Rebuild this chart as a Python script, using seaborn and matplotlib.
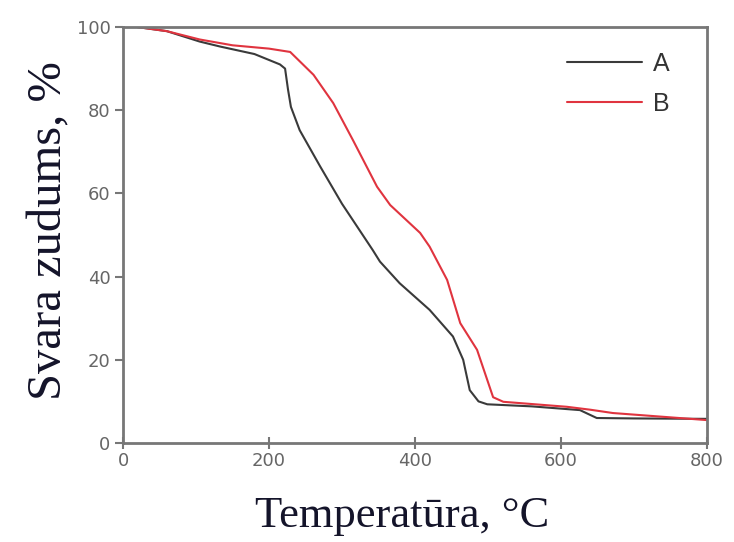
import matplotlib
matplotlib.use("Agg")
import matplotlib.pyplot as plt
import seaborn as sns
import pandas as pd

# Sample A (black) — temperature (°C) and weight (%)
temp_a = [19, 60, 105, 133, 180, 215, 222, 226, 230, 242, 270, 300, 342, 352, 379, 420, 452, 466, 475, 487, 499, 560, 626, 649, 700, 800]
mass_a = [100, 99, 96.5, 95.3, 93.5, 91, 90, 85, 80.8, 75.2, 66.5, 57.5, 46.4, 43.6, 38.4, 32, 25.6, 20, 12.7, 10, 9.3, 8.8, 7.9, 6, 5.9, 5.8]

# Sample B (red)
temp_b = [19, 60, 105, 150, 200, 229, 261, 288, 315, 348, 366, 407, 420, 444, 462, 485, 507, 521, 608, 640, 671, 800]
mass_b = [100, 99, 97, 95.6, 94.8, 94, 88.5, 81.7, 72.8, 61.6, 57.2, 50.5, 47.2, 39.2, 28.8, 22.4, 11, 9.9, 8.7, 8, 7.2, 5.5]

series_labels = ["A", "B"]
x_ticks = [0, 200, 400, 600, 800]
y_ticks = [0, 20, 40, 60, 80, 100]

df = pd.concat([
    pd.DataFrame({"T": temp_a, "W": mass_a, "s": series_labels[0]}),
    pd.DataFrame({"T": temp_b, "W": mass_b, "s": series_labels[1]}),
])

sns.set_theme(style="white")
plt.rcParams["font.family"] = ["DejaVu Sans"]

fig = plt.figure(figsize=(7.34, 5.42), dpi=100)
ax = fig.add_axes([0.1676, 0.1827, 0.7956, 0.7675])

sns.lineplot(data=df, x="T", y="W", hue="s", sort=False, estimator=None,
             palette={"A": "#3a3a3a", "B": "#e0343f"}, linewidth=1.5, ax=ax)

ax.set_xlim(0, 800)
ax.set_ylim(0, 100)
ax.set_xticks(x_ticks)
ax.set_yticks(y_ticks)
ax.tick_params(axis="both", bottom=True, left=True, colors="#777777",
               labelcolor="#666666", labelsize=13, width=1.5)
ax.tick_params(axis="x", direction="inout", length=9, pad=2)
ax.tick_params(axis="y", direction="out", length=6, pad=3)
for sp in ax.spines.values():
    sp.set_color("#777777")
    sp.set_linewidth(2)

serif = ["Liberation Serif", "DejaVu Serif"]
xl = ax.set_xlabel("Temperatūra, °C", family=serif, fontsize=32, color="#14142a")
ax.xaxis.set_label_coords(0.478, -0.127)
xl.set_verticalalignment("top")
ax.set_ylabel("Svara zudums, %", family=serif, fontsize=35, color="#14142a")
ax.yaxis.set_label_coords(-0.088, 0.51)

leg = ax.legend(loc="upper left", frameon=False, handlelength=3.0,
                labelspacing=0.65, bbox_to_anchor=(0.76, 0.94), handletextpad=0.45,
                borderpad=0, borderaxespad=0, prop={"family": "Liberation Sans", "size": 18})
for t in leg.get_texts():
    t.set_color("#333333")

fig.savefig("out.png", dpi=100)
